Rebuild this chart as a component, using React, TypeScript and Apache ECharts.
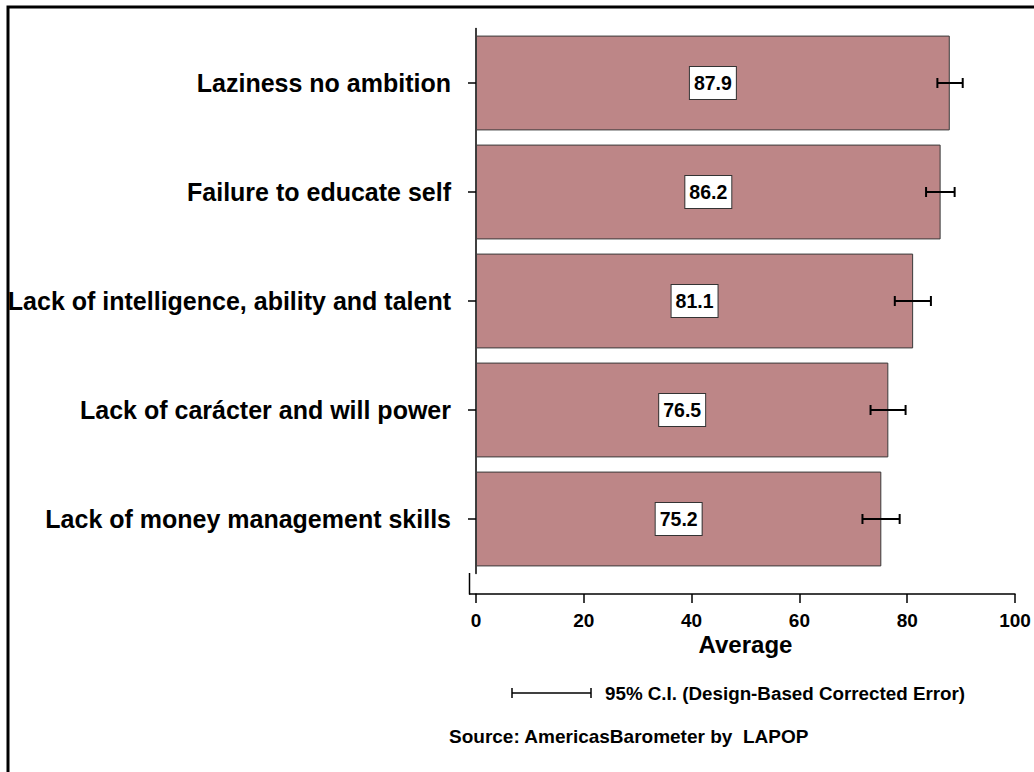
import React, { useEffect, useRef } from "react";
import * as echarts from "echarts";

const categories = [
  "Laziness no ambition",
  "Failure to educate self",
  "Lack of intelligence, ability and talent",
  "Lack of carácter and will power",
  "Lack of money management skills",
];
const averages = [87.9, 86.2, 81.1, 76.5, 75.2];
const ciLow = [85.6, 83.5, 77.7, 73.2, 71.7];
const ciHigh = [90.3, 88.8, 84.4, 79.7, 78.6];
const xMin = 0;
const xMax = 100;
const xInterval = 20;
const xTitle = "Average";
const legendText = "95% C.I. (Design-Based Corrected Error)";
const sourceText = "Source: AmericasBarometer by  LAPOP";

const FONT = "'Liberation Sans', Arial, Helvetica, sans-serif";

export default function App() {
  const ref = useRef<HTMLDivElement>(null);
  useEffect(() => {
    if (!ref.current) return;
    const chart = echarts.init(ref.current, null, { renderer: "svg" });
    const ciData = categories.map((_, i) => [ciLow[i], ciHigh[i], i]);
    chart.setOption({
      animation: false,
      backgroundColor: "#ffffff",
      textStyle: { fontFamily: FONT },
      grid: { left: 476, right: 19, top: 28.5, bottom: 198.5, containLabel: false },
      xAxis: {
        type: "value",
        min: xMin,
        max: xMax,
        interval: xInterval,
        offset: 20.5,
        name: xTitle,
        nameLocation: "middle",
        nameGap: 38,
        nameMoveOverlap: false,
        nameTextStyle: { fontSize: 24, fontWeight: "bold", color: "#000", fontFamily: FONT },
        axisLine: { show: true, lineStyle: { color: "#000", width: 1.5 } },
        axisTick: { show: true, length: 9, lineStyle: { color: "#000", width: 1.5 } },
        axisLabel: { fontSize: 19, fontWeight: "bold", color: "#000", margin: 17, fontFamily: FONT },
        splitLine: { show: false },
      },
      yAxis: {
        type: "category",
        data: categories,
        inverse: true,
        offset: 6.5,
        axisLine: { show: true, lineStyle: { color: "#000", width: 1.5 } },
        axisTick: { show: true, alignWithLabel: true, length: 8, lineStyle: { color: "#000", width: 1.5 } },
        axisLabel: { fontSize: 25, fontWeight: "bold", color: "#000", margin: 18.5, fontFamily: FONT },
      },
      series: [
        {
          type: "bar",
          data: averages,
          barCategoryGap: "13%",
          itemStyle: { color: "#bd8687", borderColor: "#3a3a3a", borderWidth: 1 },
          label: {
            show: true,
            position: "inside",
            formatter: (p: any) => Number(p.value).toFixed(1),
            backgroundColor: "#ffffff",
            borderColor: "#333",
            borderWidth: 1,
            padding: [6, 4, 6, 4],
            fontSize: 19.5,
            fontWeight: "bold",
            color: "#000",
            fontFamily: FONT,
          },
          z: 2,
        },
        {
          type: "custom",
          data: ciData,
          encode: { x: [0, 1], y: 2 },
          z: 5,
          renderItem: (params: any, api: any) => {
            const idx = api.value(2);
            const p1 = api.coord([api.value(0), idx]);
            const p2 = api.coord([api.value(1), idx]);
            const cap = 5;
            const style = { stroke: "#000", lineWidth: 2 };
            return {
              type: "group",
              children: [
                { type: "line", shape: { x1: p1[0], y1: p1[1], x2: p2[0], y2: p2[1] }, style },
                { type: "line", shape: { x1: p1[0], y1: p1[1] - cap, x2: p1[0], y2: p1[1] + cap }, style },
                { type: "line", shape: { x1: p2[0], y1: p2[1] - cap, x2: p2[0], y2: p2[1] + cap }, style },
              ],
            };
          },
        },
      ],
      graphic: [
        {
          type: "rect",
          shape: { x: 8, y: 7, width: 1200, height: 900 },
          style: { fill: "none", stroke: "#000", lineWidth: 3 },
          silent: true,
        },
        {
          type: "line",
          shape: { x1: 469.5, y1: 573, x2: 469.5, y2: 594.5 },
          style: { stroke: "#000", lineWidth: 1.5 },
        },
        {
          type: "line",
          shape: { x1: 469, y1: 594, x2: 476.5, y2: 594 },
          style: { stroke: "#000", lineWidth: 1.5 },
        },
        {
          type: "line",
          shape: { x1: 512, y1: 693, x2: 591, y2: 693 },
          style: { stroke: "#000", lineWidth: 1.5 },
        },
        {
          type: "line",
          shape: { x1: 512, y1: 688, x2: 512, y2: 698 },
          style: { stroke: "#000", lineWidth: 1.5 },
        },
        {
          type: "line",
          shape: { x1: 591, y1: 688, x2: 591, y2: 698 },
          style: { stroke: "#000", lineWidth: 1.5 },
        },
        {
          type: "text",
          x: 605,
          y: 693,
          style: {
            text: legendText,
            fontSize: 18.8,
            fontWeight: "bold",
            fill: "#000",
            fontFamily: FONT,
            verticalAlign: "middle",
            align: "left",
          },
        },
        {
          type: "text",
          x: 449,
          y: 736,
          style: {
            text: sourceText,
            fontSize: 19,
            fontWeight: "bold",
            fill: "#000",
            fontFamily: FONT,
            verticalAlign: "middle",
            align: "left",
          },
        },
      ],
    });
    return () => chart.dispose();
  }, []);
  return (
    <div
      ref={ref}
      style={{ position: "absolute", left: 0, top: 0, width: 1034, height: 772 }}
    />
  );
}
